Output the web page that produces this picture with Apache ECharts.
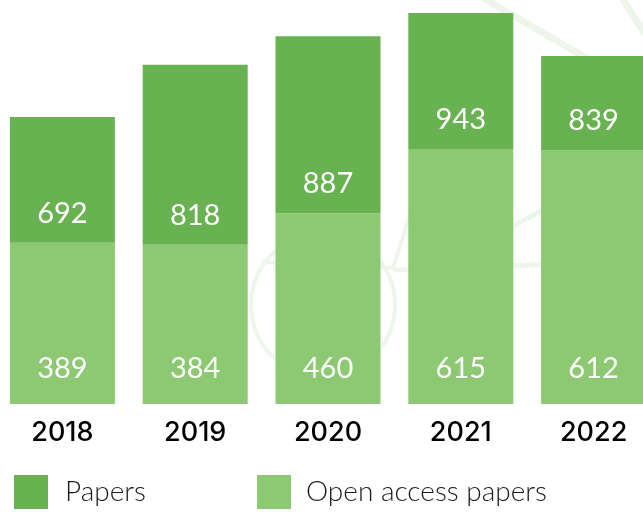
<!DOCTYPE html>
<html>
<head>
<meta charset="utf-8">
<script src="https://cdn.jsdelivr.net/npm/echarts@6/dist/echarts.min.js"></script>
<style>
html,body{margin:0;padding:0;background:#fff;overflow:hidden;width:643px;height:514px;}
#chart{position:absolute;left:-4px;top:0;width:664px;height:514px;}
</style>
</head>
<body>
<div id="chart"></div>
<script>
var years = ['2018', '2019', '2020', '2021', '2022'];
var papers = [692, 818, 887, 943, 839];
var openAccess = [389, 384, 460, 615, 612];

var darkGreen = '#69b252';
var lightGreen = '#8dc873';
var decoColor = '#eef6ec';

var rest = papers.map(function (v, i) { return v - openAccess[i]; });

var chart = echarts.init(document.getElementById('chart'), null, {renderer: 'canvas'});
chart.setOption({
  animation: false,
  textStyle: {fontFamily: 'Lato'},
  graphic: [
    {type: 'circle', z: -10, shape: {cx: 327, cy: 305, r: 72}, style: {fill: 'none', stroke: decoColor, lineWidth: 4}},
    {type: 'polyline', z: -10, shape: {points: [[266, 262], [397, 268], [417, 205]]}, style: {fill: 'none', stroke: decoColor, lineWidth: 4}},
    {type: 'line', z: -10, shape: {x1: 397, y1: 270, x2: 564, y2: 264}, style: {stroke: decoColor, lineWidth: 5}},
    {type: 'line', z: -10, shape: {x1: 516, y1: 227, x2: 564, y2: 200}, style: {stroke: decoColor, lineWidth: 5}},
    {type: 'line', z: -10, shape: {x1: 487, y1: -2, x2: 654, y2: 95}, style: {stroke: decoColor, lineWidth: 7}},
    {type: 'line', z: -10, shape: {x1: 626, y1: -2, x2: 649, y2: 34}, style: {stroke: decoColor, lineWidth: 7}}
  ],
  grid: {left: 0, right: 0, top: 10, bottom: 110, containLabel: false},
  legend: [
    {
      data: ['Papers'], left: 18, top: 475, padding: 0,
      itemWidth: 34, itemHeight: 34, icon: 'rect',
      textStyle: {fontSize: 28, color: '#1a1a1a', fontWeight: 300, padding: [0, 0, 0, 12], fontFamily: 'Lato'}
    },
    {
      data: ['Open access papers'], left: 261, top: 475, padding: 0,
      itemWidth: 34, itemHeight: 34, icon: 'rect',
      textStyle: {fontSize: 28, color: '#1a1a1a', fontWeight: 300, padding: [0, 0, 0, 10], fontFamily: 'Lato'}
    }
  ],
  xAxis: {
    type: 'category',
    data: years,
    axisLine: {show: false},
    axisTick: {show: false},
    axisLabel: {fontSize: 27, fontWeight: 500, color: '#000', margin: 15, fontFamily: 'Inter'}
  },
  yAxis: {
    type: 'value', min: 0, max: 950,
    show: false,
    splitLine: {show: false}
  },
  series: [
    {
      name: 'Open access papers',
      type: 'bar',
      stack: 'total',
      barWidth: 105,
      data: openAccess,
      itemStyle: {color: lightGreen},
      label: {
        show: true, position: 'insideBottom', distance: 21,
        color: '#fff', fontSize: 29, fontFamily: 'Lato'
      }
    },
    {
      name: 'Papers',
      type: 'bar',
      stack: 'total',
      barWidth: 105,
      data: rest,
      itemStyle: {color: darkGreen},
      label: {
        show: true, position: 'insideBottom', distance: 15,
        color: '#fff', fontSize: 29, fontFamily: 'Lato',
        formatter: function (p) { return String(papers[p.dataIndex]); }
      }
    }
  ]
});
</script>
</body>
</html>
